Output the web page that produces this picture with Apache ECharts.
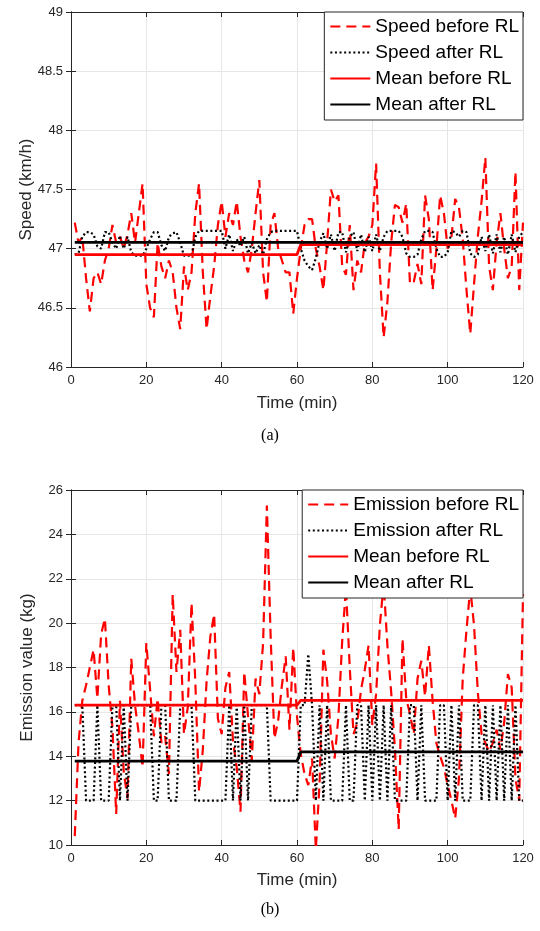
<!DOCTYPE html>
<html>
<head>
<meta charset="utf-8">
<script src="https://cdn.jsdelivr.net/npm/echarts@6/dist/echarts.min.js"></script>
<style>
html,body{margin:0;padding:0;background:#fff;}
#c{width:540px;height:931px;}
</style>
</head>
<body>
<div id="c"></div>
<script>
// ---------- Data (one sample per minute, minutes 1..120) ----------
const speedBefore = [47.22,47.05,47.1,46.75,46.47,46.75,46.8,46.7,46.9,47.0,
47.2,47.05,47.1,47.0,47.12,47.3,47.05,47.3,47.55,46.7,
46.5,46.42,47.05,46.85,46.75,46.9,46.8,46.5,46.32,46.85,
46.65,46.8,47.3,47.55,46.8,46.32,46.6,46.85,47.2,47.4,
47.1,47.3,47.2,47.4,47.1,46.9,46.8,47.0,47.3,47.58,
46.8,46.55,47.2,47.3,47.0,46.9,46.8,46.8,46.45,46.75,
47.0,47.2,47.25,47.25,47.0,46.85,46.65,47.05,47.5,47.4,
47.45,46.85,46.78,47.2,46.65,46.9,46.8,47.05,47.1,47.2,
47.72,46.8,46.25,46.55,47.05,47.37,47.35,47.22,47.38,46.7,
46.72,46.87,46.7,47.45,47.25,46.65,47.0,47.45,47.3,47.0,
47.1,47.42,47.35,47.08,46.65,46.28,46.7,47.1,47.4,47.77,
46.85,46.65,47.05,47.3,47.0,46.75,46.85,47.65,46.65,47.22];

const speedAfter = [46.95,46.96,47.1,47.14,47.14,47.12,47.02,47.0,47.14,47.14,
47.05,47.0,47.11,47.0,47.1,46.97,46.94,46.94,46.94,47.0,
47.08,47.14,47.14,47.03,46.98,47.1,47.13,47.14,47.05,46.94,
46.94,46.94,47.1,47.15,47.15,47.15,47.15,47.15,47.15,47.15,
47.0,47.12,46.98,47.08,47.02,47.1,46.96,47.05,46.96,47.03,
46.95,47.08,47.14,47.15,47.15,47.15,47.15,47.15,47.15,47.15,
47.0,46.9,46.85,46.82,46.92,47.06,47.13,47.0,47.12,46.98,
47.14,47.14,46.97,47.1,47.14,46.98,47.12,46.97,47.1,46.98,
47.12,46.98,47.1,47.15,47.15,47.15,47.15,47.1,46.96,46.93,
46.93,46.95,47.08,47.15,47.15,47.14,47.0,46.93,46.93,46.97,
47.15,47.14,47.1,47.15,47.14,46.96,46.93,46.95,47.1,46.98,
47.12,46.96,47.12,46.97,47.1,46.95,47.12,46.97,47.1,47.14];

const emissionBefore = [10.4,14.6,16.5,17.2,18.0,18.8,16.6,19.5,20.2,17.2,
15.3,11.4,16.5,13.3,12.1,18.4,16.3,15.0,13.5,19.1,
17.0,14.9,16.6,14.6,14.9,13.2,21.3,17.8,19.7,15.0,
16.2,20.9,17.4,12.4,14.3,17.4,19.4,20.4,15.7,15.0,
17.1,17.8,14.7,13.5,11.5,17.8,15.8,13.8,17.5,16.8,
19.1,25.3,19.4,14.8,15.6,17.2,18.5,15.2,18.9,15.8,
14.1,13.2,12.7,13.9,9.8,12.8,18.8,17.4,15.0,13.9,
15.8,19.2,21.6,18.0,15.0,15.5,17.0,17.9,19.0,15.4,
16.8,19.9,21.8,19.0,16.9,14.3,10.7,19.3,16.6,15.9,
15.0,17.5,18.3,16.7,19.0,16.5,14.6,14.0,13.5,12.7,
12.0,11.2,13.0,17.5,19.7,21.6,19.9,16.9,15.0,14.6,
14.2,14.6,15.2,14.3,15.5,17.7,17.1,13.0,12.0,21.3];

const emissionAfter = [16.3,16.3,16.3,12.0,12.0,12.0,16.3,12.0,12.0,12.0,
16.3,16.3,12.0,16.3,12.0,16.3,16.3,16.3,16.3,16.3,
16.3,12.0,12.0,16.3,16.3,12.0,12.0,12.0,16.3,16.3,
16.3,16.3,12.0,12.0,12.0,12.0,12.0,12.0,12.0,12.0,
12.0,16.3,12.0,16.3,12.0,16.3,12.0,16.3,16.3,16.3,
16.3,16.3,12.0,12.0,12.0,12.0,12.0,12.0,12.0,12.0,
16.3,16.3,18.6,16.3,12.0,16.3,12.0,16.3,12.0,12.0,
12.0,12.0,16.3,12.0,12.0,16.3,16.3,12.0,16.3,12.0,
16.3,12.0,16.3,12.0,16.3,12.0,12.0,12.0,12.0,16.3,
16.3,12.0,16.3,12.0,12.0,12.0,12.0,16.3,16.3,12.0,
16.3,12.0,16.3,12.0,12.0,12.0,16.3,16.3,12.0,16.3,
12.0,16.3,12.0,16.3,12.0,16.3,12.0,16.3,12.0,12.0];

// Mean lines (step at minute 60 -> 61)
const meanTimes = [1, 60, 61, 120];
const speedMeanBefore = [46.95, 46.95, 47.035, 47.035];
const speedMeanAfter = [47.053, 47.053, 47.053, 47.053];
const emisMeanBefore = [16.3, 16.3, 16.52, 16.52];
const emisMeanAfter = [13.78, 13.78, 14.2, 14.2];

const legendTop = ['Speed before RL', 'Speed after RL', 'Mean before RL', 'Mean after RL'];
const legendBottom = ['Emission before RL', 'Emission after RL', 'Mean before RL ', 'Mean after RL '];

// ---------- helpers ----------
const pairs = arr => arr.map((v, i) => [i + 1, v]);
const meanPairs = arr => arr.map((v, i) => [meanTimes[i], v]);

const FONT = '"Liberation Sans", Arial, Helvetica, sans-serif';
const AX = '#262626';
const GRID = '#e6e6e6';

function xAxes(gi, gap) {
  return [
    {
      gridIndex: gi, type: 'value', min: 0, max: 120, interval: 20,
      name: 'Time (min)', nameLocation: 'middle', nameGap: gap, nameMoveOverlap: false,
      nameTextStyle: { fontFamily: FONT, fontSize: 17, color: AX },
      axisLine: { show: true, lineStyle: { color: AX, width: 1 } },
      axisTick: { show: true, inside: true, length: 5, lineStyle: { color: AX } },
      axisLabel: { fontFamily: FONT, fontSize: 13, color: AX, margin: 7 },
      splitLine: { show: true, lineStyle: { color: GRID, width: 1 } }
    },
    {
      gridIndex: gi, type: 'value', min: 0, max: 120, interval: 20, position: 'top',
      axisLine: { show: true, lineStyle: { color: AX, width: 1 } },
      axisTick: { show: true, inside: true, length: 5, lineStyle: { color: AX } },
      axisLabel: { show: false }, splitLine: { show: false }
    }
  ];
}
function yAxes(gi, min, max, interval, name, gap) {
  return [
    {
      gridIndex: gi, type: 'value', min: min, max: max, interval: interval,
      name: name, nameLocation: 'middle', nameGap: gap, nameRotate: 90, nameMoveOverlap: false,
      nameTextStyle: { fontFamily: FONT, fontSize: 17, color: AX },
      axisLine: { show: true, lineStyle: { color: AX, width: 1 } },
      axisTick: { show: true, inside: true, length: 5, lineStyle: { color: AX } },
      axisLabel: { fontFamily: FONT, fontSize: 13, color: AX, margin: 8,
                   formatter: v => String(v) },
      splitLine: { show: true, lineStyle: { color: GRID, width: 1 } }
    },
    {
      gridIndex: gi, type: 'value', min: min, max: max, interval: interval, position: 'right',
      axisLine: { show: true, lineStyle: { color: AX, width: 1 } },
      axisTick: { show: true, inside: true, length: 5, lineStyle: { color: AX } },
      axisLabel: { show: false }, splitLine: { show: false }
    }
  ];
}

function lineSeries(name, data, xi, yi, color, type, width, z) {
  return {
    name: name, type: 'line', xAxisIndex: xi, yAxisIndex: yi,
    data: data, showSymbol: false, symbol: 'none', smooth: false, animation: false,
    clip: true, z: z,
    lineStyle: { color: color, width: width, type: type, cap: 'butt' },
    itemStyle: { color: color }
  };
}

const DASH = [10, 6];
const DOT = [2, 2.6];

function legendCfg(names, top) {
  return {
    data: names, orient: 'vertical', right: 17, top: top,
    itemWidth: 40, itemHeight: 16, itemGap: 7,
    padding: [5, 4, 6, 5],
    backgroundColor: '#ffffff', borderColor: AX, borderWidth: 1, borderRadius: 0,
    textStyle: { fontFamily: FONT, fontSize: 19, lineHeight: 18, color: '#000' },
    itemStyle: { opacity: 0 },
    selectedMode: false
  };
}

const option = {
  animation: false,
  backgroundColor: '#ffffff',
  grid: [
    { left: 71, right: 17, top: 12, height: 355 },
    { left: 71, right: 17, top: 490, height: 355 }
  ],
  xAxis: [...xAxes(0, 28), ...xAxes(1, 27)],
  yAxis: [...yAxes(0, 46, 49, 0.5, 'Speed (km/h)', 36), ...yAxes(1, 10, 26, 2, 'Emission value (kg)', 35)],
  legend: [legendCfg(legendTop, 12), legendCfg(legendBottom, 490)],
  graphic: [
    { type: 'text', left: 'center', top: 428, style: { text: '(a)', font: '16px "Liberation Serif", "Times New Roman", serif', fill: '#000' } },
    { type: 'text', left: 'center', top: 902, style: { text: '(b)', font: '16px "Liberation Serif", "Times New Roman", serif', fill: '#000' } }
  ],
  series: [
    lineSeries('Speed before RL', pairs(speedBefore), 0, 0, '#ff0000', DASH, 2.2, 2),
    lineSeries('Speed after RL', pairs(speedAfter), 0, 0, '#000000', DOT, 2.2, 3),
    lineSeries('Mean before RL', meanPairs(speedMeanBefore), 0, 0, '#ff0000', 'solid', 2.8, 4),
    lineSeries('Mean after RL', meanPairs(speedMeanAfter), 0, 0, '#000000', 'solid', 2.8, 5),
    lineSeries('Emission before RL', pairs(emissionBefore), 2, 2, '#ff0000', DASH, 2.2, 2),
    lineSeries('Emission after RL', pairs(emissionAfter), 2, 2, '#000000', DOT, 2.2, 3),
    lineSeries('Mean before RL ', meanPairs(emisMeanBefore), 2, 2, '#ff0000', 'solid', 2.8, 4),
    lineSeries('Mean after RL ', meanPairs(emisMeanAfter), 2, 2, '#000000', 'solid', 2.8, 5)
  ]
};

const chart = echarts.init(document.getElementById('c'), null, { renderer: 'canvas' });
chart.setOption(option);
</script>
</body>
</html>
